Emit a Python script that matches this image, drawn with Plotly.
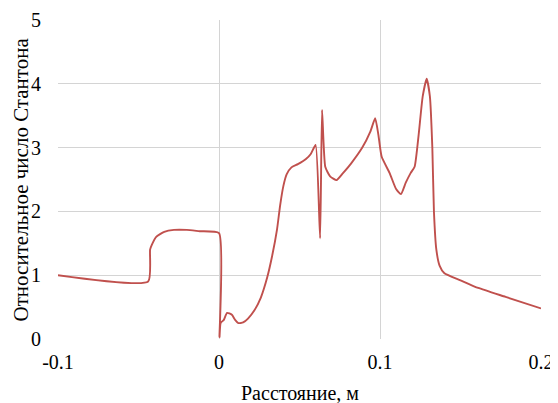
import plotly.graph_objects as go

distance_m = [-0.1, -0.044, -0.0428, -0.0418, -0.039, -0.034, -0.028, -0.020, -0.012, 0.0,
              0.0003, 0.001, 0.003, 0.005, 0.008, 0.010, 0.012, 0.015, 0.018, 0.022,
              0.026, 0.030, 0.033, 0.036, 0.038, 0.040, 0.042, 0.045, 0.049, 0.054,
              0.057, 0.060, 0.0628, 0.0640, 0.0660, 0.069, 0.073, 0.077, 0.082, 0.089,
              0.094, 0.097, 0.099, 0.101, 0.106, 0.110, 0.113, 0.116, 0.119, 0.1215,
              0.124, 0.1265, 0.129, 0.131, 0.1325, 0.1335, 0.135, 0.137, 0.140, 0.150,
              0.161, 0.178, 0.2]
stanton_rel = [1.0, 0.90, 1.40, 1.47, 1.60, 1.68, 1.71, 1.71, 1.69, 1.66,
               0.03, 0.25, 0.30, 0.41, 0.38, 0.30, 0.25, 0.26, 0.32, 0.45,
               0.65, 0.97, 1.30, 1.71, 2.10, 2.40, 2.58, 2.69, 2.74, 2.82,
               2.90, 3.04, 1.58, 3.59, 2.70, 2.55, 2.49, 2.60, 2.75, 3.00,
               3.25, 3.46, 3.20, 2.86, 2.60, 2.35, 2.27, 2.45, 2.60, 2.70,
               3.20, 3.80, 4.08, 3.80, 3.00, 2.00, 1.40, 1.15, 1.03, 0.92,
               0.80, 0.66, 0.48]

x_ticks = [-0.1, 0.0, 0.1, 0.2]
x_tick_labels = ["-0.1", "0", "0.1", "0.2"]
y_ticks = [0, 1, 2, 3, 4, 5]
x_title = "Расстояние, м"
y_title = "Относительное число Стантона"

fig = go.Figure()
fig.add_trace(go.Scatter(
    x=distance_m, y=stanton_rel, mode="lines",
    line=dict(color="#c0504d", width=1.9, shape="spline", smoothing=0.5),
    showlegend=False,
))

serif = "Liberation Serif"
# the page body adds an 8px margin, so the figure is sized to fill the rest of the window
fig.update_layout(
    width=550, height=395,
    margin=dict(l=50, r=17, t=12, b=64),
    paper_bgcolor="white", plot_bgcolor="white",
    font=dict(family=serif, size=20, color="#000000"),
    xaxis=dict(range=[-0.1, 0.2], tickvals=x_ticks, ticktext=x_tick_labels,
               showgrid=True, gridcolor="#d4d4d4", gridwidth=1,
               zeroline=False, showline=False, ticks="", automargin=False,
               ticklabelstandoff=9, tickfont=dict(family=serif, size=20)),
    yaxis=dict(range=[0, 5], tickvals=y_ticks,
               showgrid=True, gridcolor="#d4d4d4", gridwidth=1,
               zeroline=False, showline=False, ticks="", automargin=False,
               ticklabelstandoff=16, tickfont=dict(family=serif, size=20)),
    annotations=[
        dict(text=x_title, xref="paper", yref="paper", x=0.5, y=0, yshift=-54,
             xanchor="center", yanchor="middle", showarrow=False,
             font=dict(family=serif, size=20)),
        dict(text=y_title, xref="paper", yref="paper", x=0, y=0.5, xshift=-38,
             xanchor="center", yanchor="middle", textangle=-90, showarrow=False,
             font=dict(family=serif, size=21)),
    ],
)
fig.write_html("out.html")
